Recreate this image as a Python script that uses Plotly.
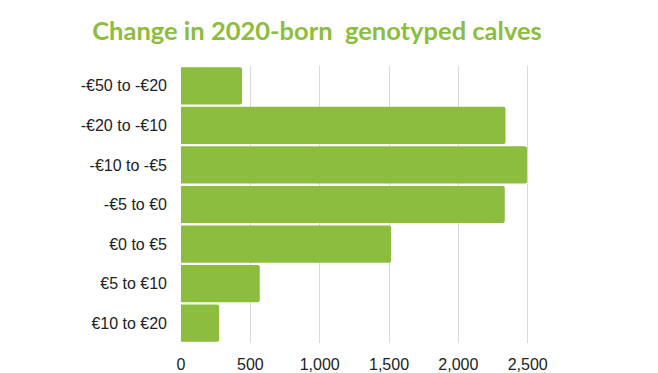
import plotly.graph_objects as go

categories = ["-€50 to -€20", "-€20 to -€10", "-€10 to -€5", "-€5 to €0",
              "€0 to €5", "€5 to €10", "€10 to €20"]
values = [440, 2340, 2495, 2335, 1515, 568, 275]
x_ticks = [0, 500, 1000, 1500, 2000, 2500]
x_tick_labels = ["0", "500", "1,000", "1,500", "2,000", "2,500"]
title_text = "Change in 2020-born  genotyped calves"

# page body has an 8px margin; compensate so the figure lands where the reference is
OFF = 8

fig = go.Figure(go.Bar(
    x=values, y=categories, orientation="h",
    marker=dict(color="#8cbd3f", cornerradius=2, line=dict(width=0)),
))

fig.update_layout(
    width=658 - OFF, height=373 - OFF,
    margin=dict(l=180.5 - OFF, r=61, t=66 - OFF, b=29.5),
    paper_bgcolor="white", plot_bgcolor="white",
    bargap=0.06,
    showlegend=False,
    title=dict(text=title_text, x=(317 - OFF) / (658 - OFF), xanchor="center",
               y=1 - (31.5 - OFF) / (373 - OFF), yanchor="middle",
               font=dict(family="Lato", size=25.5, color="#8cbd3f", weight="bold")),
    font=dict(family="Liberation Sans, Arial", size=16, color="#222222"),
)
fig.update_xaxes(range=[0, 3000], tickvals=x_ticks, ticktext=x_tick_labels,
                 showgrid=True, gridcolor="#d9d9d9", gridwidth=1, zeroline=False,
                 showline=False, ticks="", fixedrange=True, ticklabelstandoff=10,
                 automargin=False)
fig.update_yaxes(autorange="reversed", showgrid=False, zeroline=False, showline=False,
                 ticks="", ticklabelstandoff=13, automargin=False)

fig.write_html("out.html")
